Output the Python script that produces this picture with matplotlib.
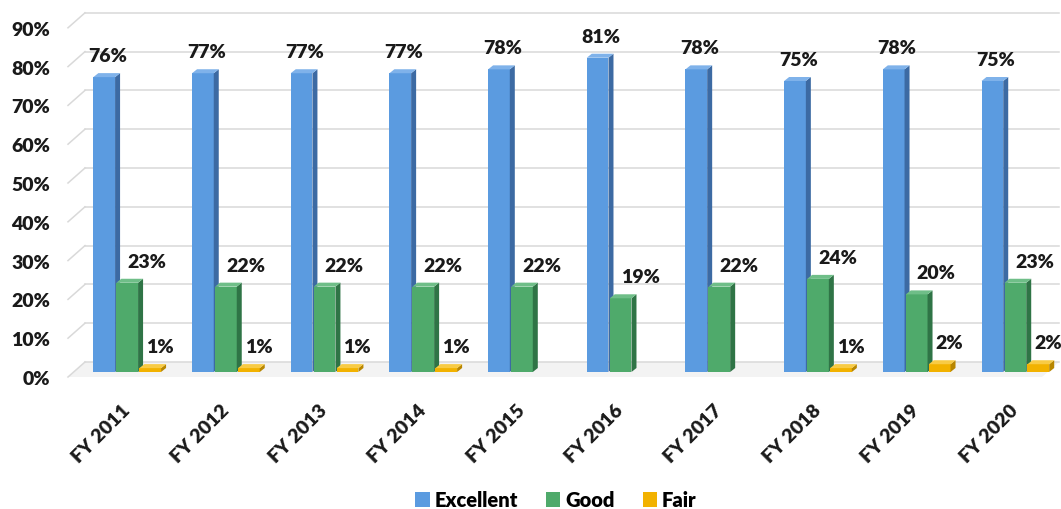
import matplotlib
matplotlib.use("Agg")
import matplotlib.pyplot as plt
from matplotlib.patches import Polygon, Patch
from matplotlib.transforms import ScaledTranslation
from matplotlib.ticker import FuncFormatter

# ---- data -------------------------------------------------------------
years = ["FY 2011", "FY 2012", "FY 2013", "FY 2014", "FY 2015",
         "FY 2016", "FY 2017", "FY 2018", "FY 2019", "FY 2020"]
excellent = [76, 77, 77, 77, 78, 81, 78, 75, 78, 75]
good = [23, 22, 22, 22, 22, 19, 22, 24, 20, 23]
fair = [1, 1, 1, 1, 0, 0, 0, 1, 2, 2]
series_names = ["Excellent", "Good", "Fair"]
y_ticks = list(range(0, 100, 10))

# ---- style ------------------------------------------------------------
front_colors = ["#5B9BE0", "#4FAA6B", "#F2B200"]
side_colors = ["#3C6AA3", "#2F7446", "#B88600"]
top_colors = ["#7FB2EA", "#6FBE88", "#F8CB45"]
label_dx_px = [1, 17, 7]           # horizontal shift of each series' value label
WEIGHT = "heavy"
FS = 14

plt.rcParams["font.family"] = ["Lato", "DejaVu Sans"]
plt.rcParams["font.weight"] = WEIGHT

W, H = 1061, 510
fig = plt.figure(figsize=(W / 100, H / 100), dpi=100)
fig.patch.set_facecolor("white")

ax_l, ax_r, ax_b, ax_t = 68, 1042, 373, 23.8    # pixel frame of the plot area
ax = fig.add_axes([ax_l / W, 1 - ax_b / H, (ax_r - ax_l) / W, (ax_b - ax_t) / H])
x_min, x_max = -0.6, 9.27
ax.set_xlim(x_min, x_max)
ax.set_ylim(0, 90)
ax.set_facecolor("none")
for s in ax.spines.values():
    s.set_visible(False)

px_x = (ax_r - ax_l) / (x_max - x_min)
px_y = (ax_b - ax_t) / 90.0


def dx(p):
    return p / px_x


def dy(p):
    return p / px_y


# ---- walls / floor (pseudo 3-D) --------------------------------------
front_off = -5          # front edge sits a little lower than the bar plane
wall_dx, wall_dy = 17, 10
floor = Polygon([(x_min, dy(front_off)), (x_max, dy(front_off)),
                 (x_max + dx(wall_dx), dy(wall_dy)), (x_min + dx(wall_dx), dy(wall_dy))],
                closed=True, facecolor="#f3f3f3", edgecolor="none", zorder=0.2,
                clip_on=False)
ax.add_patch(floor)
for v in y_ticks:
    yb = v + dy(wall_dy)
    ax.plot([x_min + dx(wall_dx), x_max + dx(wall_dx)], [yb, yb],
            color="#d9d9d9", lw=1.1, zorder=0.5, clip_on=False)
    ax.plot([x_min, x_min + dx(wall_dx)], [v + dy(front_off), yb],
            color="#d9d9d9", lw=1.1, zorder=0.5, clip_on=False)

# ---- bars ---------------------------------------------------------------
slot = 0.233
width = 0.22
bar_dx, bar_dy = 5, 4
series = [excellent, good, fair]
xs = list(range(len(years)))
for k, vals in enumerate(series):
    lefts = [x + (k - 1) * slot - width / 2 for x in xs]
    z = 2 + k
    bars = ax.bar(lefts, vals, width=width, align="edge", color=front_colors[k],
                  linewidth=0, zorder=z)
    for b in bars:
        b.set_clip_on(False)
    for xl, v in zip(lefts, vals):
        if v <= 0:
            continue
        xr = xl + width
        side = [(xr, 0), (xr, v), (xr + dx(bar_dx), v + dy(bar_dy)),
                (xr + dx(bar_dx), dy(bar_dy))]
        top = [(xl, v), (xr, v), (xr + dx(bar_dx), v + dy(bar_dy)),
               (xl + dx(bar_dx), v + dy(bar_dy))]
        ax.add_patch(Polygon(side, closed=True, facecolor=side_colors[k],
                             edgecolor="none", zorder=z, clip_on=False))
        ax.add_patch(Polygon(top, closed=True, facecolor=top_colors[k],
                             edgecolor="none", zorder=z, clip_on=False))
        ax.annotate(f"{v}%", xy=(xl + width / 2, v),
                    xytext=((bar_dx / 2 + label_dx_px[k]) * 0.72, 16 * 0.72),
                    textcoords="offset points", ha="center", va="baseline",
                    fontsize=FS, fontweight=WEIGHT, color="#1a1a1a", zorder=10,
                    annotation_clip=False)

# ---- axes text ---------------------------------------------------------
ax.set_yticks(y_ticks)
ax.yaxis.set_major_formatter(FuncFormatter(lambda v, _: f"{v:.0f}%"))
ax.tick_params(axis="y", length=0, pad=13, labelsize=FS, labelcolor="#1a1a1a")
shift = ScaledTranslation(0, front_off / 100, fig.dpi_scale_trans)
for lbl in ax.get_yticklabels():
    lbl.set_transform(lbl.get_transform() + shift)
    lbl.set_fontweight(WEIGHT)

ax.set_xticks(xs)
ax.set_xticklabels(years, rotation=45, ha="right", va="center",
                   rotation_mode="anchor", fontsize=FS, fontweight=WEIGHT,
                   color="#1a1a1a")
ax.tick_params(axis="x", length=0, pad=25)

handles = [Patch(facecolor=c, edgecolor="none") for c in front_colors]
fig.legend(handles, series_names, loc="center", bbox_to_anchor=(556 / W, 1 - 501 / H),
           ncol=3, frameon=False, handlelength=0.7, handleheight=0.7,
           handletextpad=0.25, columnspacing=1.4,
           prop={"weight": WEIGHT, "size": 14.5})

fig.savefig("out.png", dpi=100, facecolor="white")
